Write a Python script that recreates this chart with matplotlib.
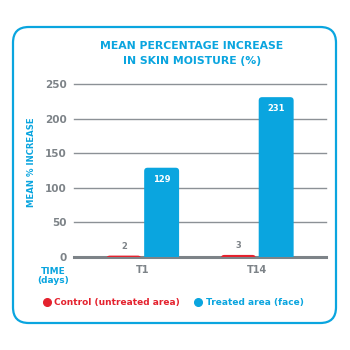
import numpy as np
import matplotlib.pyplot as plt
from matplotlib.patches import FancyBboxPatch
from matplotlib.lines import Line2D

# data
days = ['T1', 'T14']
control = [2, 3]
treated = [129, 231]
yticks = [0, 50, 100, 150, 200, 250]

cyan = '#0aa5df'
red = '#e4222e'
gray = '#7d8388'

plt.rcParams['font.family'] = 'DejaVu Sans'
plt.rcParams['font.weight'] = 'bold'

fig = plt.figure(figsize=(3.5, 3.5), dpi=100)

# rounded frame round the whole chart
frame = FancyBboxPatch((13/350, 27/350), 323/350, 296/350,
                       boxstyle='round,pad=0,rounding_size=0.045',
                       transform=fig.transFigure, fc='none', ec=cyan, lw=1.6)
fig.patches.append(frame)

# axes: x from 74 to 326 px, y zero at 257 px, 250 at 84 px
ppu = (257 - 84) / 250
ytop = 255
ax = fig.add_axes([74/350, (350-257)/350, 252/350, ytop*ppu/350])
ax.set_xlim(-0.6, 1.6)
ax.set_ylim(0, ytop)
ax.set_facecolor('none')

x = np.arange(len(days))
w = 0.305
off = 0.165

# plain bars first, then swap for rounded ones
bars_c = ax.bar(x - off, control, w, color=red)
bars_t = ax.bar(x + off, treated, w, color=cyan)
aspect = (252/2.2) / ppu
r = 0.03
for b in list(bars_c) + list(bars_t):
    b.set_visible(False)
    x0, h = b.get_x(), b.get_height()
    p = FancyBboxPatch((x0, -15), b.get_width(), h + 15,
                       boxstyle=f'round,pad=0,rounding_size={r}',
                       mutation_aspect=aspect, fc=b.get_facecolor(), ec='none',
                       zorder=3)
    ax.add_patch(p)

for b, v in zip(bars_c, control):
    ax.annotate(str(v), (b.get_x() + b.get_width()/2, v), xytext=(0, 3.5),
                textcoords='offset points', ha='center', va='bottom',
                fontsize=6, color=gray, fontweight='bold')
for b, v in zip(bars_t, treated):
    ax.annotate(str(v), (b.get_x() + b.get_width()/2, v), xytext=(0, -8.5),
                textcoords='offset points', ha='center', va='center',
                fontsize=6, color='white', fontweight='bold', zorder=4)

# grid
for t in yticks[1:]:
    ax.axhline(t, color='#8c9196', lw=1.0, zorder=1, clip_on=False)
ax.axhline(0, color=gray, lw=2.2, zorder=2, clip_on=False)

for s in ax.spines.values():
    s.set_visible(False)
ax.set_yticks(yticks)
ax.set_yticklabels([str(t) for t in yticks], fontsize=7.5, color=gray, fontweight='bold')
ax.set_xticks(x)
ax.set_xticklabels(days, fontsize=7, color=gray, fontweight='bold')
ax.tick_params(axis='y', length=0, pad=5)
ax.tick_params(axis='x', length=0, pad=6)

# texts
fig.text(192/350, 1 - 53.5/350, 'MEAN PERCENTAGE INCREASE\nIN SKIN MOISTURE (%)',
         ha='center', va='center', fontsize=7.8, color=cyan, fontweight='bold',
         linespacing=1.6)
fig.text(32/350, 1 - 162/350, 'MEAN % INCREASE', rotation=90, ha='center',
         va='center', fontsize=6.1, color=cyan, fontweight='bold')
fig.text(53/350, 1 - 276/350, 'TIME\n(days)', ha='center', va='center',
         fontsize=6.5, color=cyan, fontweight='bold', linespacing=1.1)

handles = [Line2D([], [], ls='none', marker='o', ms=5.5, mfc=red, mec=red),
           Line2D([], [], ls='none', marker='o', ms=5.5, mfc=cyan, mec=cyan)]
fig.legend(handles, ['Control (untreated area)', 'Treated area (face)'],
           loc='center', bbox_to_anchor=(173/350, 1 - 303/350), ncol=2,
           frameon=False, handletextpad=0.3, columnspacing=1.55,
           handlelength=1.0, labelcolor=[red, cyan],
           prop={'size': 6.5, 'weight': 'bold'})

fig.savefig('out.png', dpi=100)
